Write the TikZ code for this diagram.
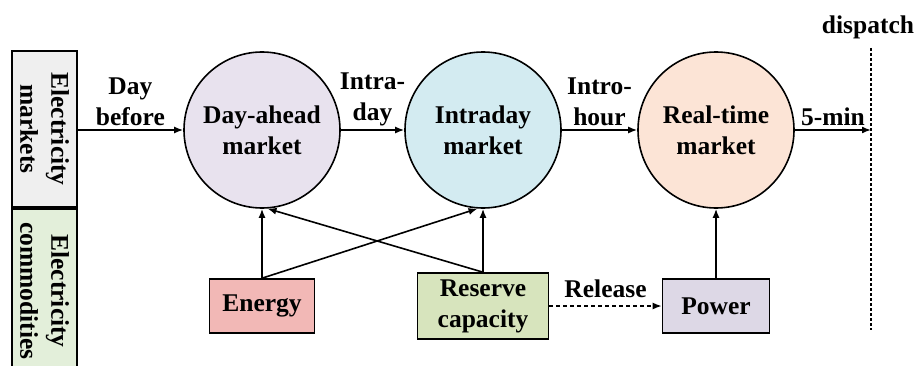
\documentclass[tikz,border=0pt]{standalone}
\usepackage{fontspec}
\setmainfont{Liberation Serif}
\usetikzlibrary{arrows.meta}

\definecolor{dayfill}{HTML}{E8E2EE}
\definecolor{intrafill}{HTML}{D3EBF1}
\definecolor{rtfill}{HTML}{FCE4D6}
\definecolor{energyfill}{HTML}{F2B8B6}
\definecolor{reservefill}{HTML}{D7E4BD}
\definecolor{powerfill}{HTML}{DDD8E6}
\definecolor{mktfill}{HTML}{EFEFEF}
\definecolor{comfill}{HTML}{E3EFDA}

\begin{document}
\begin{tikzpicture}[x=1pt,y=1pt,line width=1.6pt,
    font=\fontsize{25.5}{31}\selectfont\bfseries,
    >={Latex[length=9pt,width=7pt]},
    market/.style={draw,circle,minimum size=156pt,inner sep=0pt,align=center},
    commodity/.style={draw,minimum height=54pt,align=center,inner sep=0pt},
    sidebar/.style={draw,line width=1.2pt,rotate=-90,align=center}]
\useasboundingbox (0,0) rectangle (921,365);

% side labels
\node [sidebar,fill=mktfill,minimum width=156pt,minimum height=65pt]
      (markets)     at ( 44.5,236) {Electricity\\markets};
\node [sidebar,fill=comfill,minimum width=164pt,minimum height=65pt]
      (commodities) at ( 44.5, 74) {Electricity\\commodities};

% markets
\node [market,fill=dayfill]   (dayahead) at (262,235) {Day-ahead\\market};
\node [market,fill=intrafill] (intraday) at (483,235) {Intraday\\market};
\node [market,fill=rtfill]    (realtime) at (716,235) {Real-time\\market};

% commodities
\node [commodity,fill=energyfill,minimum width=105pt]  (energy)  at (262,59) {Energy};
\node [commodity,fill=reservefill,minimum width=131pt,minimum height=66pt]
                                                      (reserve) at (483,59) {Reserve\\capacity};
\node [commodity,fill=powerfill,minimum width=107pt]   (power)   at (716,59) {Power};

% dispatch line
\coordinate (disptop) at (871,317);
\coordinate (dispbot) at (871,35);
\draw [dashed,line width=1.4pt,dash pattern=on 3pt off 2pt] (disptop) -- (dispbot);
\node (dispatch) at (868,338) {dispatch};

\coordinate (start) at (markets.north |- dayahead);
\coordinate (dispend) at (disptop |- realtime);

\draw [->] (start) --
    node[above,align=center] {Day\\before} (dayahead);
\draw [->] (dayahead) --
    node[above,align=center] {Intra-\\day} (intraday);
\draw [->] (intraday) --
    node[above,align=center] {Intro-\\hour} (realtime);
\draw [->] (realtime) --
    node[above] {5-min} (dispend);

\draw [->] (energy) -- (dayahead);
\draw [->] (energy.north) -- (intraday.266);
\draw [->] (reserve) -- (intraday);
\draw [->] (reserve.north) -- (dayahead.274);
\draw [->] (power) -- (realtime);
\draw [->,dashed,dash pattern=on 4pt off 3pt] (reserve) --
    node[above=4pt] {Release} (power);
\end{tikzpicture}
\end{document}
